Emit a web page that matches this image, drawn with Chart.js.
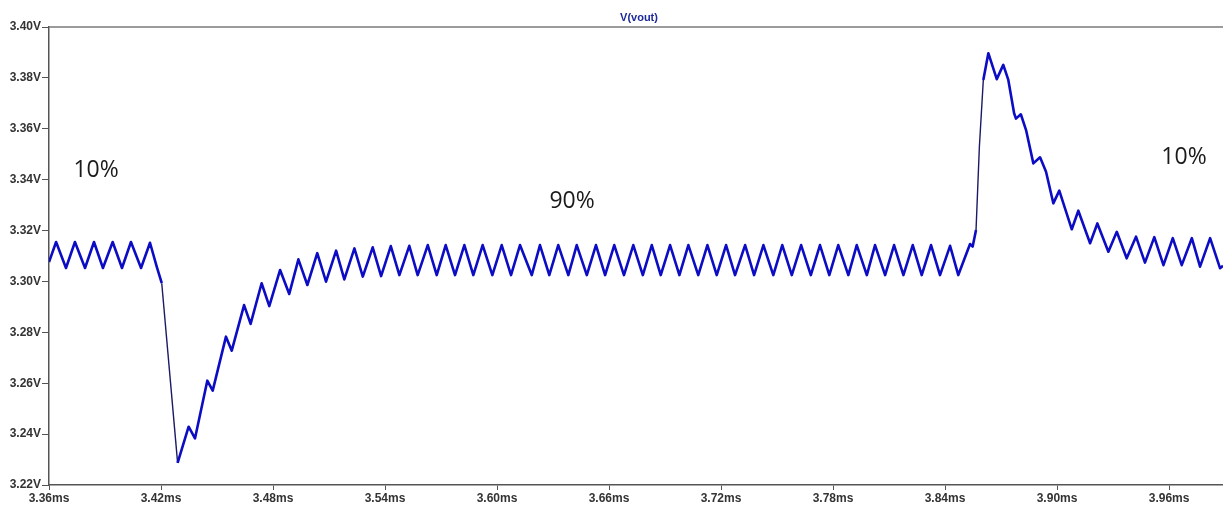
<!DOCTYPE html>
<html>
<head>
<meta charset="utf-8">
<script src="https://cdn.jsdelivr.net/npm/chart.js@4/dist/chart.umd.min.js"></script>
<style>
  html, body { margin: 0; padding: 0; background: #ffffff; }
  #wrap { width: 1223px; height: 505px; }
</style>
</head>
<body>
<div id="wrap"><canvas id="c" width="1223" height="505"></canvas></div>
<script>
// ---- data (time in ms, voltage in V) ----
const traceName = 'V(vout)';
const timeMs = [
  3.3600, 3.3638, 3.3691, 3.3739, 3.3793, 3.3841, 3.3889, 3.3941, 3.3991, 3.4039,
  3.4093, 3.4141, 3.4177, 3.4204, 3.4289, 3.4348, 3.4382, 3.4448, 3.4477, 3.4548,
  3.4579, 3.4645, 3.4680, 3.4739, 3.4780, 3.4838, 3.4887, 3.4936, 3.4984, 3.5037,
  3.5084, 3.5138, 3.5182, 3.5236, 3.5281, 3.5334, 3.5379, 3.5431, 3.5477, 3.5530,
  3.5575, 3.5629, 3.5677, 3.5725, 3.5775, 3.5825, 3.5873, 3.5923, 3.5975, 3.6025,
  3.6075, 3.6123, 3.6186, 3.6230, 3.6280, 3.6328, 3.6382, 3.6427, 3.6481, 3.6530,
  3.6579, 3.6628, 3.6680, 3.6730, 3.6781, 3.6829, 3.6877, 3.6927, 3.6977, 3.7025,
  3.7078, 3.7127, 3.7177, 3.7227, 3.7275, 3.7329, 3.7377, 3.7427, 3.7480, 3.7528,
  3.7579, 3.7629, 3.7681, 3.7730, 3.7780, 3.7828, 3.7882, 3.7927, 3.7981, 3.8025,
  3.8079, 3.8127, 3.8177, 3.8227, 3.8275, 3.8325, 3.8373, 3.8427, 3.8471, 3.8534,
  3.8548, 3.8566, 3.8584, 3.8605, 3.8632, 3.8677, 3.8712, 3.8739, 3.8770, 3.8780,
  3.8806, 3.8834, 3.8873, 3.8909, 3.8941, 3.8980, 3.9012, 3.9079, 3.9114, 3.9177,
  3.9216, 3.9275, 3.9320, 3.9373, 3.9423, 3.9471, 3.9521, 3.9570, 3.9620, 3.9668,
  3.9722, 3.9766, 3.9820, 3.9873, 3.9889
];
const vout = [
  3.3076, 3.3155, 3.3053, 3.3155, 3.3053, 3.3155, 3.3053, 3.3155, 3.3053, 3.3155,
  3.3053, 3.3152, 3.3058, 3.2993, 3.2287, 3.2429, 3.2383, 3.2610, 3.2571, 3.2783,
  3.2728, 3.2907, 3.2833, 3.2993, 3.2903, 3.3045, 3.2951, 3.3087, 3.2986, 3.3111,
  3.2999, 3.3121, 3.3008, 3.3130, 3.3019, 3.3134, 3.3021, 3.3139, 3.3025, 3.3140,
  3.3025, 3.3143, 3.3025, 3.3143, 3.3025, 3.3143, 3.3025, 3.3143, 3.3025, 3.3143,
  3.3025, 3.3143, 3.3025, 3.3143, 3.3025, 3.3143, 3.3025, 3.3143, 3.3025, 3.3143,
  3.3025, 3.3143, 3.3025, 3.3143, 3.3025, 3.3143, 3.3025, 3.3143, 3.3025, 3.3143,
  3.3025, 3.3143, 3.3025, 3.3143, 3.3025, 3.3143, 3.3025, 3.3143, 3.3025, 3.3143,
  3.3025, 3.3143, 3.3025, 3.3143, 3.3025, 3.3143, 3.3025, 3.3143, 3.3025, 3.3143,
  3.3025, 3.3143, 3.3025, 3.3143, 3.3025, 3.3143, 3.3025, 3.3140, 3.3025, 3.3147,
  3.3137, 3.3202, 3.3530, 3.3792, 3.3897, 3.3795, 3.3851, 3.3792, 3.3661, 3.3640,
  3.3657, 3.3595, 3.3464, 3.3488, 3.3431, 3.3307, 3.3357, 3.3205, 3.3278, 3.3150,
  3.3228, 3.3117, 3.3195, 3.3091, 3.3176, 3.3074, 3.3174, 3.3064, 3.3170, 3.3064,
  3.3170, 3.3058, 3.3170, 3.3052, 3.3062
];
const xTickValues = [3.36, 3.42, 3.48, 3.54, 3.60, 3.66, 3.72, 3.78, 3.84, 3.90, 3.96];
const yTickValues = [3.22, 3.24, 3.26, 3.28, 3.30, 3.32, 3.34, 3.36, 3.38, 3.40];
const noteTexts = ['10%', '90%', '10%'];
const noteTimes = [3.3852, 3.6402, 3.9680];
const noteVolts = [3.3438, 3.3313, 3.3489];

const xMin = 3.36, xMax = 3.9889, yMin = 3.22, yMax = 3.40;

const overlay = {
  id: 'overlay',
  afterDraw(chart) {
    const { ctx, chartArea, scales } = chart;
    ctx.save();
    // top frame line
    ctx.strokeStyle = '#7a7a7a';
    ctx.lineWidth = 1.5;
    ctx.beginPath();
    ctx.moveTo(chartArea.left, chartArea.top);
    ctx.lineTo(chartArea.right, chartArea.top);
    ctx.stroke();
    // trace title
    ctx.fillStyle = '#1d2a9a';
    ctx.font = 'bold 11px "Liberation Sans", Arial, sans-serif';
    ctx.textAlign = 'center';
    ctx.textBaseline = 'middle';
    ctx.fillText(traceName, (chartArea.left + chartArea.right) / 2 + 3, chartArea.top - 9);
    // annotations
    ctx.fillStyle = '#1a1a1a';
    ctx.font = '23px "Open Sans", sans-serif';
    for (let i = 0; i < noteTexts.length; i++) {
      ctx.fillText(noteTexts[i], scales.x.getPixelForValue(noteTimes[i]), scales.y.getPixelForValue(noteVolts[i]));
    }
    ctx.restore();
  }
};

function pxSlope(ctx) {
  const a = ctx.p0, b = ctx.p1;
  const dx = Math.abs(b.x - a.x) || 0.001;
  return Math.abs(b.y - a.y) / dx;
}

new Chart(document.getElementById('c'), {
  type: 'line',
  data: {
    datasets: [{
      label: traceName,
      data: timeMs.map((t, i) => ({ x: t, y: vout[i] })),
      borderColor: '#0c0cc4',
      borderWidth: 2.6,
      pointRadius: 0,
      tension: 0,
      borderJoinStyle: 'round',
      segment: {
        borderColor: c => pxSlope(c) > 8 ? '#1a1a66' : '#0c0cc4',
        borderWidth: c => pxSlope(c) > 8 ? 1.4 : 2.6
      }
    }]
  },
  options: {
    responsive: false,
    animation: false,
    devicePixelRatio: 1,
    layout: { padding: { top: 27, right: 0, left: 0, bottom: 0 } },
    plugins: { legend: { display: false }, tooltip: { enabled: false }, title: { display: false } },
    scales: {
      x: {
        type: 'linear',
        min: xMin, max: xMax,
        afterBuildTicks: s => { s.ticks = xTickValues.map(v => ({ value: v })); },
        afterFit: s => { s.height = 20; },
        grid: { drawOnChartArea: false, drawTicks: true, tickLength: 5, color: '#555' },
        border: { display: true, color: '#555', width: 1.5 },
        ticks: {
          padding: 1,
          maxRotation: 0,
          autoSkip: false,
          color: '#333',
          font: { family: '"Liberation Sans", Arial, sans-serif', size: 12, weight: 'bold' },
          callback: v => v.toFixed(2) + 'ms'
        }
      },
      y: {
        type: 'linear',
        min: yMin, max: yMax,
        afterBuildTicks: s => { s.ticks = yTickValues.map(v => ({ value: v })); },
        afterFit: s => { s.width = 49; },
        grid: { drawOnChartArea: false, drawTicks: true, tickLength: 7, color: '#555' },
        border: { display: true, color: '#555', width: 1.5 },
        ticks: {
          padding: 1,
          autoSkip: false,
          color: '#333',
          font: { family: '"Liberation Sans", Arial, sans-serif', size: 12, weight: 'bold' },
          callback: v => v.toFixed(2) + 'V'
        }
      }
    }
  },
  plugins: [overlay]
});
</script>
</body>
</html>
